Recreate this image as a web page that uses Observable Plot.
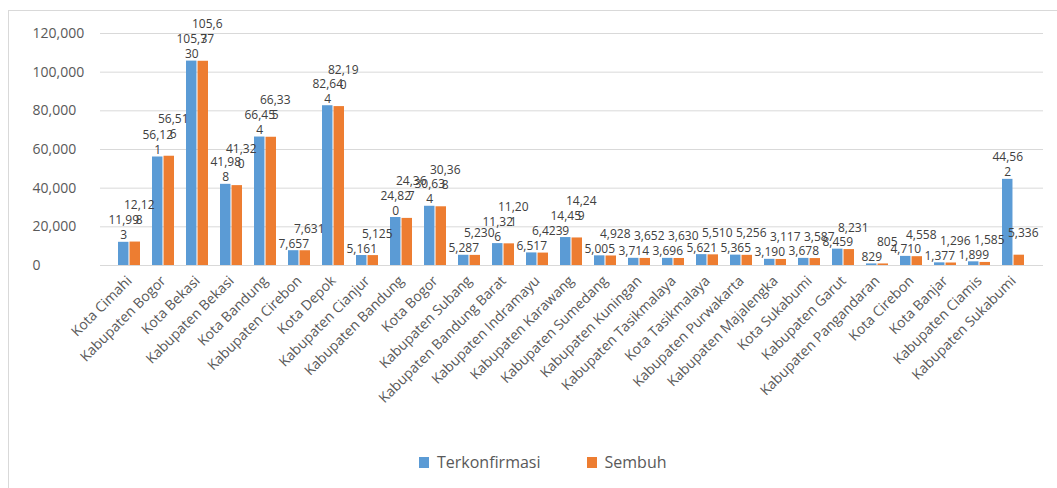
<!DOCTYPE html>
<html>
<head>
<meta charset="utf-8">
<script src="https://cdn.jsdelivr.net/npm/d3@7"></script>
<script src="https://cdn.jsdelivr.net/npm/@observablehq/plot@0.6"></script>
<style>
  html, body { margin: 0; padding: 0; background: #fff; }
  #wrap { position: relative; width: 1057px; height: 488px; font-family: "Open Sans", "Noto Sans", sans-serif; overflow: hidden; }
  #frame { position: absolute; left: 8px; top: 10px; width: 1060px; height: 520px; border: 1px solid #d9d9d9; box-sizing: border-box; }
  #chart { position: absolute; left: 0; top: 0; }
  #legend { position: absolute; left: 419px; top: 451px; display: flex; align-items: center; font-size: 16px; color: #595959; }
  .sw { display: inline-block; width: 10px; height: 11px; margin-right: 8px; }
  .item { display: flex; align-items: center; margin-right: 46px; }
</style>
</head>
<body>
<div id="wrap">
  <div id="frame"></div>
  <div id="chart"></div>
  <div id="legend"></div>
</div>
<script>
const categories = [
  "Kota Cimahi", "Kabupaten Bogor", "Kota Bekasi", "Kabupaten Bekasi", "Kota Bandung",
  "Kabupaten Cirebon", "Kota Depok", "Kabupaten Cianjur", "Kabupaten Bandung", "Kota Bogor",
  "Kabupaten Subang", "Kabupaten Bandung Barat", "Kabupaten Indramayu", "Kabupaten Karawang",
  "Kabupaten Sumedang", "Kabupaten Kuningan", "Kabupaten Tasikmalaya", "Kota Tasikmalaya",
  "Kabupaten Purwakarta", "Kabupaten Majalengka", "Kota Sukabumi", "Kabupaten Garut",
  "Kabupaten Pangandaran", "Kota Cirebon", "Kota Banjar", "Kabupaten Ciamis", "Kabupaten Sukabumi"
];
const terkonfirmasi = [
  11993, 56121, 105730, 41988, 66454,
  7657, 82644, 5161, 24820, 30634,
  5287, 11326, 6517, 14459,
  5005, 3714, 3696, 5621,
  5365, 3190, 3678, 8459,
  829, 4710, 1377, 1899, 44562
];
const sembuh = [
  12128, 56516, 105637, 41320, 66335,
  7631, 82190, 5125, 24367, 30368,
  5230, 11201, 6423, 14249,
  4928, 3652, 3630, 5510,
  5256, 3117, 3587, 8231,
  805, 4558, 1296, 1585, 5336
];
const seriesNames = ["Terkonfirmasi", "Sembuh"];
const seriesColors = ["#5B9BD5", "#ED7D31"];
const yTicks = [0, 20000, 40000, 60000, 80000, 100000, 120000];

const rows = categories.map((c, i) => ({c, t: terkonfirmasi[i], s: sembuh[i]}));
const fmt = d3.format(",");
const wrapLabel = v => { const s = fmt(v); return s.length > 5 ? s.slice(0, 5) + "\n" + s.slice(5) : s; };

const W = 1057, ML = 100, MR = 14;
const pIn = 0.34, pOut = 0.17;
const bw = d3.scaleBand(categories, [ML, W - MR]).paddingInner(pIn).paddingOuter(pOut).bandwidth();

const chart = Plot.plot({
  width: W,
  height: 450,
  marginTop: 33,
  marginBottom: 185,
  marginLeft: ML,
  marginRight: MR,
  style: {fontFamily: "'Open Sans', 'Noto Sans', sans-serif", color: "#595959", background: "transparent", overflow: "visible"},
  x: {domain: categories, paddingInner: pIn, paddingOuter: pOut, axis: null, label: null},
  y: {domain: [0, 120000], axis: null, label: null},
  marks: [
    Plot.ruleY(yTicks, {stroke: "#d9d9d9", strokeWidth: 1}),
    Plot.axisY({ticks: yTicks, tickSize: 0, tickPadding: 68, textAnchor: "start", tickFormat: d => fmt(d), fontSize: 14, label: null}),
    Plot.axisX({tickSize: 0, tickRotate: -45, tickPadding: 13, fontSize: 14, label: null}),
    Plot.barY(rows, {x: "c", y: "t", fill: seriesColors[0], insetLeft: 0, insetRight: bw / 2}),
    Plot.barY(rows, {x: "c", y: "s", fill: seriesColors[1], insetLeft: bw / 2, insetRight: 0}),
    Plot.text(rows, {x: "c", y: "t", text: d => wrapLabel(d.t), dx: -bw / 4, dy: -3, lineAnchor: "bottom", fontSize: 12, fill: "#404040", lineHeight: 1.25}),
    Plot.text(rows, {x: "c", y: "s", text: d => wrapLabel(d.s), dx: bw / 4 + 4, dy: -18, lineAnchor: "bottom", fontSize: 12, fill: "#404040", lineHeight: 1.25})
  ]
});
document.getElementById("chart").appendChild(chart);

const legend = document.getElementById("legend");
seriesNames.forEach((n, i) => {
  const it = document.createElement("div");
  it.className = "item";
  const sw = document.createElement("span");
  sw.className = "sw";
  sw.style.background = seriesColors[i];
  it.appendChild(sw);
  it.appendChild(document.createTextNode(n));
  legend.appendChild(it);
});
</script>
</body>
</html>
